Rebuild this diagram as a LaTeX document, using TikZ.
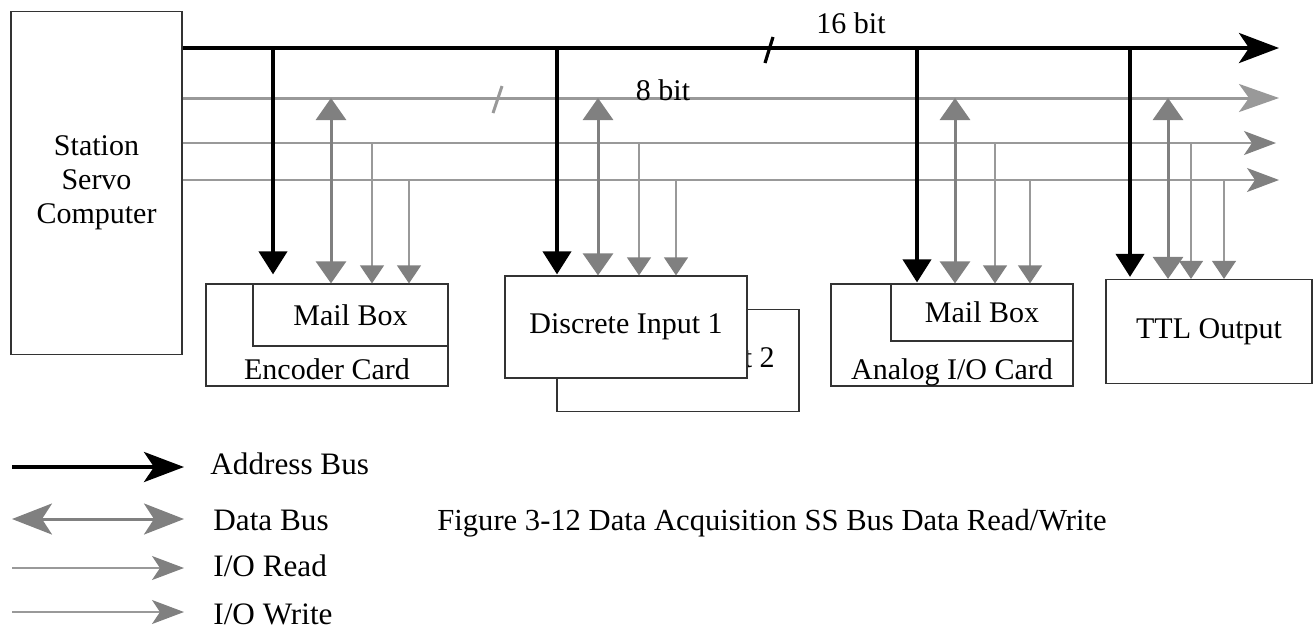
\documentclass[tikz,border=0pt]{standalone}
\usepackage{fontspec}
\setmainfont{Liberation Serif}
\usetikzlibrary{%
        arrows.meta,
        positioning
    }
\definecolor{busgray}{RGB}{153, 153, 153}
\definecolor{tipgray}{RGB}{128, 128, 128}
\tikzset{
    card/.style={draw=black!80, line width=0.6pt, fill=white, inner sep=0pt,
        minimum width=121pt, minimum height=51pt},
    cardname/.style={anchor=base, inner sep=0pt, yshift=3.5pt},
    addrbus/.style={line width=2pt, -{Stealth[length=20pt, width=15pt, inset=5pt]}},
    databus/.style={busgray, line width=1.5pt, -{Stealth[length=20pt, width=14pt, inset=5pt]}},
    iobus/.style={busgray, line width=0.6pt,
        -{Stealth[length=16pt, width=12pt, inset=4pt, color=tipgray]}},
    addrdrop/.style={line width=2pt, -{Triangle[length=11.5pt, width=14pt]}},
    datadrop/.style={tipgray, line width=1.5pt,
        {Triangle[length=11pt, width=15pt]}-{Triangle[length=11pt, width=15pt]}},
    iodrop/.style={busgray, line width=0.6pt, -{Triangle[length=9pt, width=12pt, color=tipgray]}},
    legendtext/.style={anchor=base west, inner sep=0pt, font=\fontsize{15.6}{17}\selectfont}
}

\begin{document}
\begin{tikzpicture}[x=0.5pt, y=-0.5pt, font=\fontsize{15}{17}\selectfont]

    \useasboundingbox (0, 0) rectangle (1316, 628);

    % computer and cards
    \node[card, minimum width=85.5pt, minimum height=171.5pt, align=center]
        (comp) at (96.5, 183) {Station\\Servo\\Computer};

    \node[card, label={[cardname]south:Encoder Card}] (enc) at (327, 335) {};
    \node[card, anchor=north east, minimum width=97.5pt, minimum height=31pt]
        (encmb) at (enc.north east) {Mail Box};

    \node[card] (disc2) at (678, 360.5) {Discrete Input 2};
    \node[card] (disc1) at (626, 327) {Discrete Input 1};

    \node[card, label={[cardname]south:Analog I/O Card}] (ana) at (952, 335) {};
    \node[card, anchor=north east, minimum width=91pt, minimum height=28.5pt]
        (anamb) at (ana.north east) {Mail Box};

    \node[card, minimum width=103pt, minimum height=52pt] (ttl) at (1209, 331.5) {TTL Output};

    % buses
    \coordinate (addrR) at (1279, 48);
    \coordinate (dataR) at (1279, 98);
    \coordinate (rdR) at (1276, 143);
    \coordinate (wrR) at (1279, 180);

    \draw[addrbus] (addrR -| comp.east) -- (addrR);
    \draw[databus] (dataR -| comp.east) -- (dataR);
    \draw[iobus] (rdR -| comp.east) -- (rdR);
    \draw[iobus] (wrR -| comp.east) -- (wrR);

    \draw[line width=1.6pt] (765, 63) -- (773, 37);
    \draw[busgray, line width=1.5pt] (493, 113) -- (502, 86);

    \node (bits16) at (851, 23) {16 bit};
    \node (bits8) at (663, 90) {8 bit};

    % drops into the cards
    \foreach \card/\xa/\xd/\xr/\xw/\gap in {%
        enc/273/331/372/409/4.5pt, disc1/557/598/639/676/0.5pt,
        ana/917/955/995/1030/0.5pt, ttl/1130/1168/1191/1224/1pt} {%
        \coordinate (\card-a) at (\xa, 48);
        \coordinate (\card-d) at (\xd, 98);
        \coordinate (\card-r) at (\xr, 143);
        \coordinate (\card-w) at (\xw, 180);
        \draw[addrdrop, shorten >=\gap] (\card-a) -- (\card-a |- \card.north);
        \draw[datadrop] (\card-d) -- (\card-d |- \card.north);
        \draw[iodrop] (\card-r) -- (\card-r |- \card.north);
        \draw[iodrop] (\card-w) -- (\card-w |- \card.north);
    };

    % legend
    \foreach \name/\y in {laddr/467, ldata/519, lrd/568, lwr/612} {%
        \coordinate (\name-s) at (12, \y);
        \coordinate (\name-e) at (184, \y);
    };
    \draw[addrbus] (laddr-s) -- (laddr-e);
    \draw[tipgray, line width=1.5pt,
        {Stealth[length=20pt, width=15.5pt, inset=5pt]}-{Stealth[length=20pt, width=15.5pt, inset=5pt]}]
        (ldata-s) -- (ldata-e);
    \draw[iobus] (lrd-s) -- (lrd-e);
    \draw[iobus] (lwr-s) -- (lwr-e);

    \node[legendtext] (taddr) at (210, 474) {Address Bus};
    \node[legendtext] (tdata) at (213, 530) {Data Bus};
    \node[legendtext] (trd) at (213, 576) {I/O Read};
    \node[legendtext] (twr) at (213, 624) {I/O Write};
    \node[legendtext, font=\fontsize{15.3}{17}\selectfont] (caption) at (437, 530)
        {Figure 3-12 Data Acquisition SS Bus Data Read/Write};

\end{tikzpicture}
\end{document}
